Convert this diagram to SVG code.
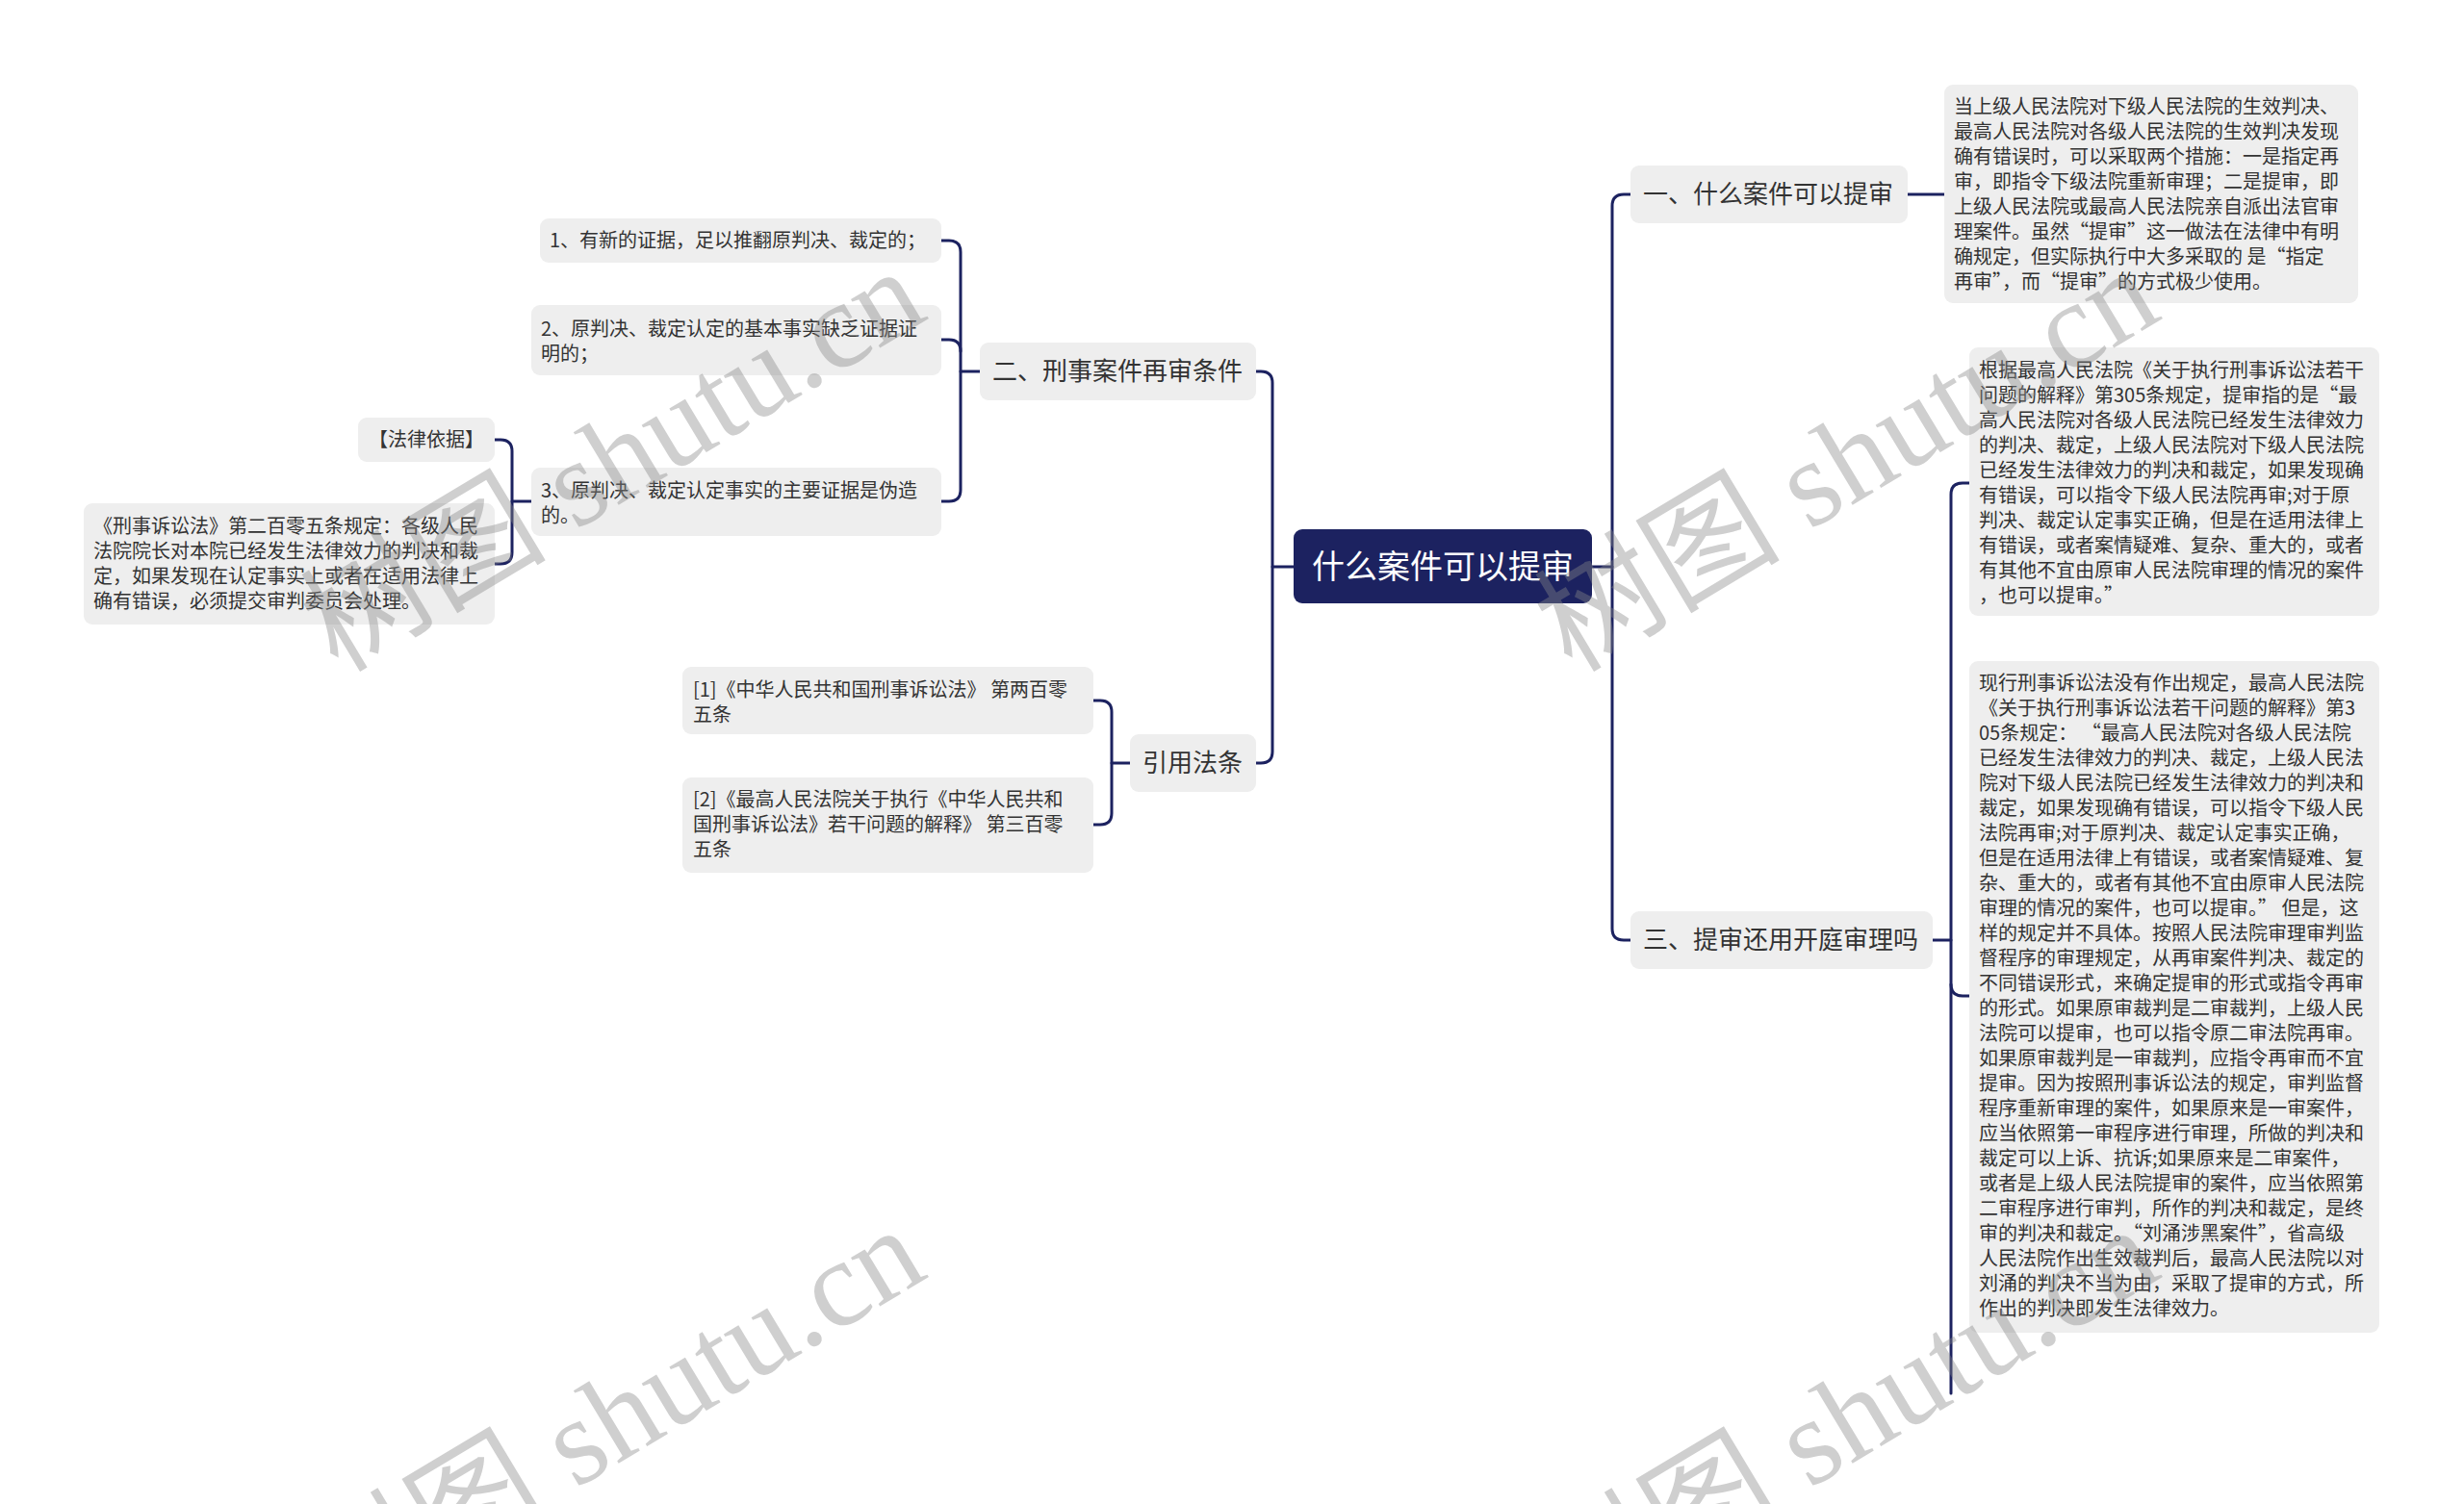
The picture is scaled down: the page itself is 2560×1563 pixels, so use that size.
<svg xmlns="http://www.w3.org/2000/svg" width="2560" height="1563" viewBox="0 0 2560 1563">
<style>
.box{fill:#eeeeee}
.t{font-family:"Noto Sans CJK SC","Noto Sans",sans-serif;fill:#333333}
.s20{font-size:20px}
.s26{font-size:26px}
.root{font-family:"Noto Sans CJK SC","Noto Sans",sans-serif;font-size:34px;fill:#ffffff}
.c{fill:none;stroke:#1c2260;stroke-width:3;stroke-linecap:round}
.wm{font-family:"Liberation Serif","Noto Sans CJK SC",serif;font-size:128px;fill:#888888;opacity:0.4}
</style>
<rect width="2560" height="1563" fill="#ffffff"/>
<g id="connectors">
<path class="c" d="M1654,589 H1675"/>
<path class="c" d="M1694,202 H1687 Q1675,202 1675,214 V965 Q1675,977 1687,977 H1694"/>
<path class="c" d="M1982,202 H2020"/>
<path class="c" d="M2008,977 H2027"/>
<path class="c" d="M2046,502 H2039 Q2027,502 2027,514 V1448"/>
<path class="c" d="M2027,1023 Q2027,1035 2039,1035 H2046"/>
<path class="c" d="M1344,589 H1322"/>
<path class="c" d="M1305,386 H1310 Q1322,386 1322,398 V781 Q1322,793 1310,793 H1305"/>
<path class="c" d="M1018,386 H998"/>
<path class="c" d="M978,250 H986 Q998,250 998,262 V509 Q998,521 986,521 H978"/>
<path class="c" d="M978,353 H986 Q998,353 998,365"/>
<path class="c" d="M552,521 H532"/>
<path class="c" d="M514,457 H520 Q532,457 532,469 V574 Q532,586 520,586 H514"/>
<path class="c" d="M1174,793 H1155"/>
<path class="c" d="M1136,728 H1143 Q1155,728 1155,740 V845 Q1155,857 1143,857 H1136"/>
</g>
<g id="root">
<rect x="1344" y="550" width="310" height="77" rx="9" fill="#1c2260"/>
<text class="root" x="1499" y="601" text-anchor="middle">什么案件可以提审</text>
</g>
<g id="n1">
<rect class="box" x="1694" y="172" width="288" height="60" rx="9"/>
<text class="t s26" x="1707" y="211">一、什么案件可以提审</text>
</g>
<g id="n1a">
<rect class="box" x="2020" y="88" width="430" height="227" rx="9"/>
<text class="t s20">
<tspan x="2030" y="118">当上级人民法院对下级人民法院的生效判决、</tspan>
<tspan x="2030" y="144">最高人民法院对各级人民法院的生效判决发现</tspan>
<tspan x="2030" y="170">确有错误时，可以采取两个措施：一是指定再</tspan>
<tspan x="2030" y="196">审，即指令下级法院重新审理；二是提审，即</tspan>
<tspan x="2030" y="222">上级人民法院或最高人民法院亲自派出法官审</tspan>
<tspan x="2030" y="248">理案件。虽然“提审”这一做法在法律中有明</tspan>
<tspan x="2030" y="274">确规定，但实际执行中大多采取的 是“指定</tspan>
<tspan x="2030" y="300">再审”，而“提审”的方式极少使用。</tspan>
</text>
</g>
<g id="n3">
<rect class="box" x="1694" y="947" width="314" height="60" rx="9"/>
<text class="t s26" x="1707" y="986">三、提审还用开庭审理吗</text>
</g>
<g id="n3a">
<rect class="box" x="2046" y="361" width="426" height="279" rx="9"/>
<text class="t s20">
<tspan x="2056" y="392">根据最高人民法院《关于执行刑事诉讼法若干</tspan>
<tspan x="2056" y="418">问题的解释》第305条规定，提审指的是“最</tspan>
<tspan x="2056" y="444">高人民法院对各级人民法院已经发生法律效力</tspan>
<tspan x="2056" y="470">的判决、裁定，上级人民法院对下级人民法院</tspan>
<tspan x="2056" y="496">已经发生法律效力的判决和裁定，如果发现确</tspan>
<tspan x="2056" y="522">有错误，可以指令下级人民法院再审;对于原</tspan>
<tspan x="2056" y="548">判决、裁定认定事实正确，但是在适用法律上</tspan>
<tspan x="2056" y="574">有错误，或者案情疑难、复杂、重大的，或者</tspan>
<tspan x="2056" y="600">有其他不宜由原审人民法院审理的情况的案件</tspan>
<tspan x="2056" y="626">，也可以提审。”</tspan>
</text>
</g>
<g id="n3b">
<rect class="box" x="2046" y="687" width="426" height="698" rx="9"/>
<text class="t s20">
<tspan x="2056" y="717">现行刑事诉讼法没有作出规定，最高人民法院</tspan>
<tspan x="2056" y="743">《关于执行刑事诉讼法若干问题的解释》第3</tspan>
<tspan x="2056" y="769">05条规定： “最高人民法院对各级人民法院</tspan>
<tspan x="2056" y="795">已经发生法律效力的判决、裁定，上级人民法</tspan>
<tspan x="2056" y="821">院对下级人民法院已经发生法律效力的判决和</tspan>
<tspan x="2056" y="847">裁定，如果发现确有错误，可以指令下级人民</tspan>
<tspan x="2056" y="873">法院再审;对于原判决、裁定认定事实正确，</tspan>
<tspan x="2056" y="899">但是在适用法律上有错误，或者案情疑难、复</tspan>
<tspan x="2056" y="925">杂、重大的，或者有其他不宜由原审人民法院</tspan>
<tspan x="2056" y="951">审理的情况的案件，也可以提审。” 但是，这</tspan>
<tspan x="2056" y="977">样的规定并不具体。按照人民法院审理审判监</tspan>
<tspan x="2056" y="1003">督程序的审理规定，从再审案件判决、裁定的</tspan>
<tspan x="2056" y="1029">不同错误形式，来确定提审的形式或指令再审</tspan>
<tspan x="2056" y="1055">的形式。如果原审裁判是二审裁判，上级人民</tspan>
<tspan x="2056" y="1081">法院可以提审，也可以指令原二审法院再审。</tspan>
<tspan x="2056" y="1107">如果原审裁判是一审裁判，应指令再审而不宜</tspan>
<tspan x="2056" y="1133">提审。因为按照刑事诉讼法的规定，审判监督</tspan>
<tspan x="2056" y="1159">程序重新审理的案件，如果原来是一审案件，</tspan>
<tspan x="2056" y="1185">应当依照第一审程序进行审理，所做的判决和</tspan>
<tspan x="2056" y="1211">裁定可以上诉、抗诉;如果原来是二审案件，</tspan>
<tspan x="2056" y="1237">或者是上级人民法院提审的案件，应当依照第</tspan>
<tspan x="2056" y="1263">二审程序进行审判，所作的判决和裁定，是终</tspan>
<tspan x="2056" y="1289">审的判决和裁定。“刘涌涉黑案件”，省高级</tspan>
<tspan x="2056" y="1315">人民法院作出生效裁判后，最高人民法院以对</tspan>
<tspan x="2056" y="1341">刘涌的判决不当为由，采取了提审的方式，所</tspan>
<tspan x="2056" y="1367">作出的判决即发生法律效力。</tspan>
</text>
</g>
<g id="n2">
<rect class="box" x="1018" y="356" width="287" height="60" rx="9"/>
<text class="t s26" x="1031" y="395">二、刑事案件再审条件</text>
</g>
<g id="n2a">
<rect class="box" x="561" y="227" width="417" height="46" rx="9"/>
<text class="t s20" x="571" y="257">1、有新的证据，足以推翻原判决、裁定的；</text>
</g>
<g id="n2b">
<rect class="box" x="552" y="317" width="426" height="73" rx="9"/>
<text class="t s20"><tspan x="562" y="349">2、原判决、裁定认定的基本事实缺乏证据证</tspan><tspan x="562" y="375">明的；</tspan></text>
</g>
<g id="n2c">
<rect class="box" x="552" y="486" width="426" height="71" rx="9"/>
<text class="t s20"><tspan x="562" y="517">3、原判决、裁定认定事实的主要证据是伪造</tspan><tspan x="562" y="543">的。</tspan></text>
</g>
<g id="n2c1">
<rect class="box" x="372" y="434" width="142" height="46" rx="9"/>
<text class="t s20" x="383" y="464">【法律依据】</text>
</g>
<g id="n2c2">
<rect class="box" x="87" y="523" width="427" height="126" rx="9"/>
<text class="t s20">
<tspan x="97" y="554">《刑事诉讼法》第二百零五条规定：各级人民</tspan>
<tspan x="97" y="580">法院院长对本院已经发生法律效力的判决和裁</tspan>
<tspan x="97" y="606">定，如果发现在认定事实上或者在适用法律上</tspan>
<tspan x="97" y="632">确有错误，必须提交审判委员会处理。</tspan>
</text>
</g>
<g id="n4">
<rect class="box" x="1174" y="763" width="131" height="60" rx="9"/>
<text class="t s26" x="1187" y="802">引用法条</text>
</g>
<g id="n4a">
<rect class="box" x="709" y="693" width="427" height="70" rx="9"/>
<text class="t s20"><tspan x="720" y="724">[1]《中华人民共和国刑事诉讼法》 第两百零</tspan><tspan x="720" y="750">五条</tspan></text>
</g>
<g id="n4b">
<rect class="box" x="709" y="808" width="427" height="99" rx="9"/>
<text class="t s20"><tspan x="720" y="838">[2]《最高人民法院关于执行《中华人民共和</tspan><tspan x="720" y="864">国刑事诉讼法》若干问题的解释》 第三百零</tspan><tspan x="720" y="890">五条</tspan></text>
</g>
<g id="watermarks">
<text class="wm" x="351" y="700" transform="rotate(-31 351 700)">树图 shutu.cn</text>
<text class="wm" x="1633" y="700" transform="rotate(-31 1633 700)">树图 shutu.cn</text>
<text class="wm" x="351" y="1696" transform="rotate(-31 351 1696)">树图 shutu.cn</text>
<text class="wm" x="1633" y="1696" transform="rotate(-31 1633 1696)">树图 shutu.cn</text>
</g>
</svg>
